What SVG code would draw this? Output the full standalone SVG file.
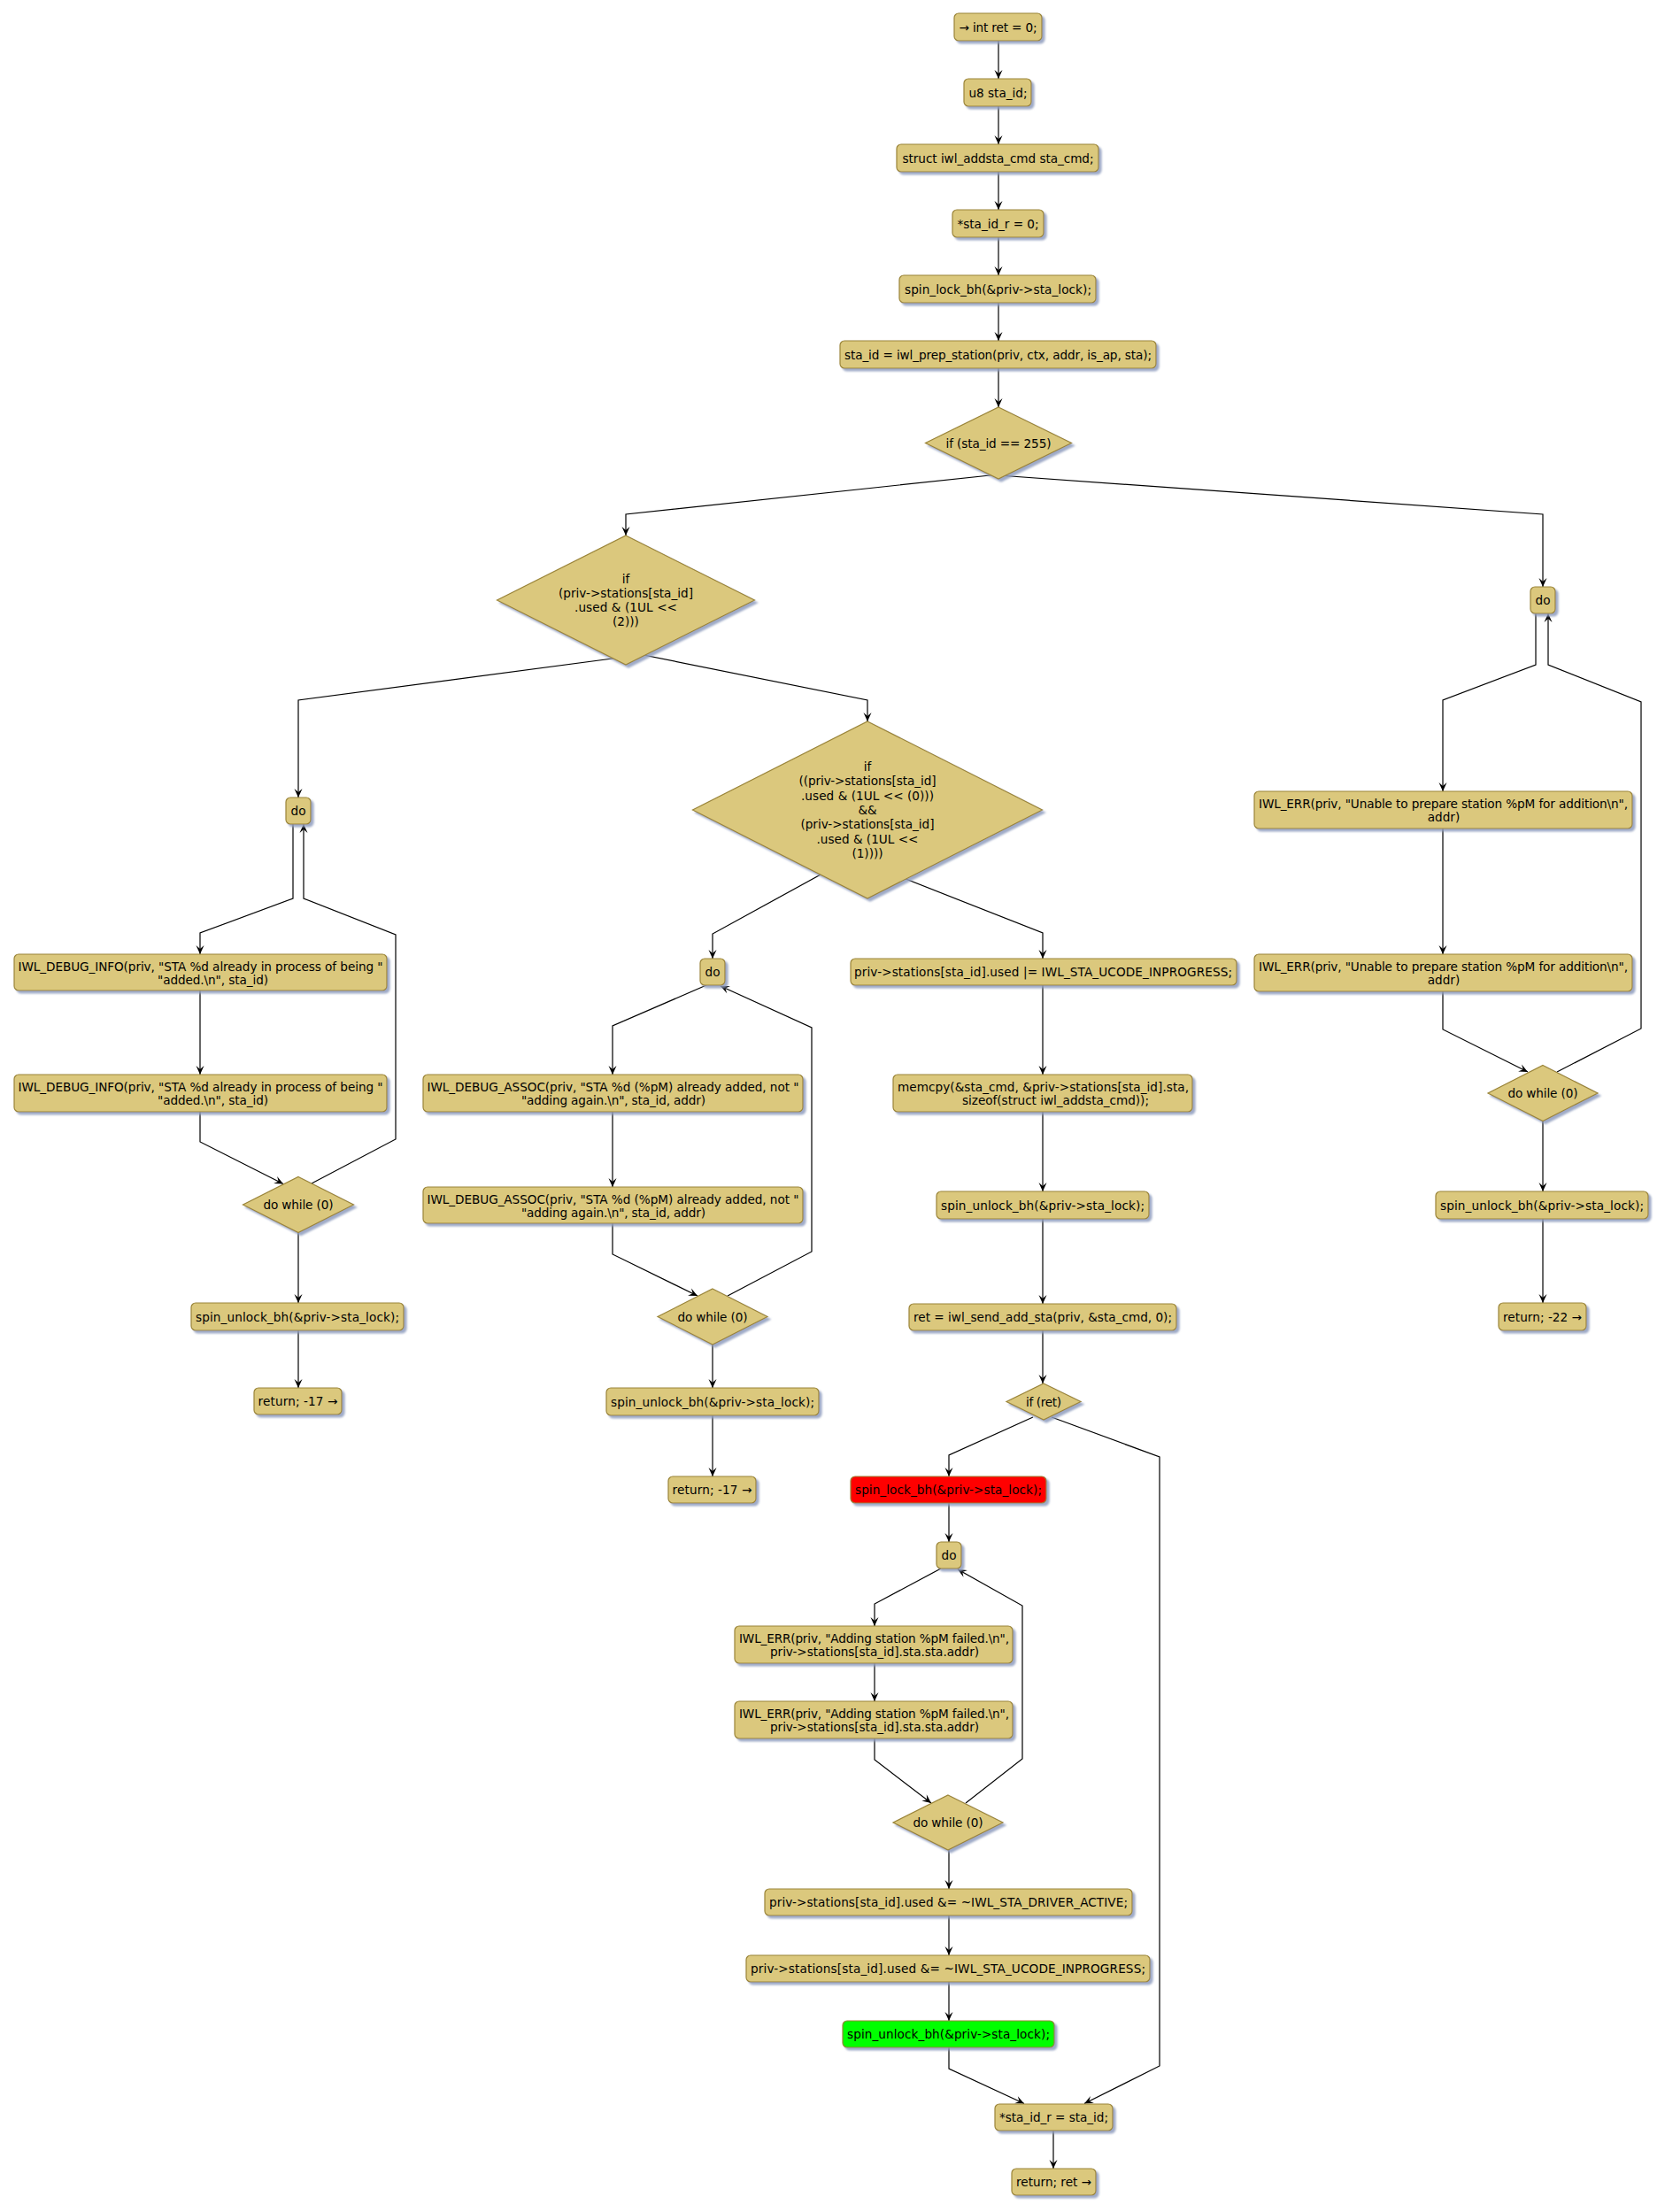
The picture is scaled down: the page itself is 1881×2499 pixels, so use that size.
<svg xmlns="http://www.w3.org/2000/svg" width="1881" height="2499" viewBox="0 0 1881 2499">
<defs>
<style>
.box{fill:#DBC87D;stroke:#9A8438;stroke-width:1.2;filter:url(#sh)}
.red{fill:#FF0000}
.grn{fill:#00FF00}
text{font-family:"DejaVu Sans",Verdana,sans-serif;font-size:13.6px;fill:#000;text-anchor:middle}
.c path{fill:none;stroke:#000;stroke-width:1.2}
.c .a{marker-end:url(#ah)}
</style>
<marker id="ah" markerUnits="userSpaceOnUse" viewBox="-11 -6 12 12" refX="0" refY="0" markerWidth="12" markerHeight="12" orient="auto">
<path d="M0,0 L-10,-4.5 L-6,0 L-10,4.5 Z" fill="#000"/>
</marker>
<filter id="sh" x="-10%" y="-10%" width="130%" height="160%">
<feGaussianBlur in="SourceAlpha" stdDeviation="1.2" result="b"/>
<feOffset in="b" dx="3" dy="3" result="o"/>
<feFlood flood-color="#8E9CBE" flood-opacity="0.85"/>
<feComposite in2="o" operator="in" result="s"/>
<feMerge><feMergeNode in="s"/><feMergeNode in="SourceGraphic"/></feMerge>
</filter>
</defs>
<rect width="1881" height="2499" fill="#FFFFFF"/>

<g id="connectors" class="c">
<path class="a" d="M1128,46 L1128,89"/>
<path class="a" d="M1128,120 L1128,163"/>
<path class="a" d="M1128,194 L1128,237"/>
<path class="a" d="M1128,268 L1128,311"/>
<path class="a" d="M1128,342 L1128,385"/>
<path class="a" d="M1128,416 L1128,460"/>
<path class="a" d="M1128,536 L707,581 L707,605"/>
<path class="a" d="M1128,537 L1743,581 L1743,663"/>
<path class="a" d="M707,742 L337,791 L337,901"/>
<path class="a" d="M707,736 L980,791 L980,815"/>
<path class="a" d="M980,959 L805,1055 L805,1083"/>
<path class="a" d="M980,976 L1178,1054 L1178,1083"/>
<path class="a" d="M331,931 L331,1015 L226,1054 L226,1078"/>
<path class="a" d="M226,1119 L226,1214"/>
<path class="a" d="M226,1256 L226,1290 L320,1337.5"/>
<path class="a" d="M352,1337 L447,1287 L447,1056 L343,1015 L343,931"/>
<path class="a" d="M337,1392.5 L337,1472"/>
<path class="a" d="M337,1503 L337,1568"/>
<path class="a" d="M798,1113 L692,1159 L692,1214"/>
<path class="a" d="M692,1256 L692,1341"/>
<path class="a" d="M692,1382 L692,1417 L788,1464"/>
<path class="a" d="M822,1464 L917,1414 L917,1161 L814,1114"/>
<path class="a" d="M805,1519 L805,1568"/>
<path class="a" d="M805,1599 L805,1668"/>
<path class="a" d="M1178,1113 L1178,1214"/>
<path class="a" d="M1178,1256 L1178,1346"/>
<path class="a" d="M1178,1377 L1178,1473"/>
<path class="a" d="M1178,1503 L1178,1563"/>
<path class="a" d="M1167,1601 L1072,1644 L1072,1668"/>
<path class="a" d="M1188,1601 L1310,1646 L1310,2334 L1225,2376.5"/>
<path class="a" d="M1072,1698 L1072,1742"/>
<path class="a" d="M1063,1772 L988,1812 L988,1837"/>
<path class="a" d="M988,1879 L988,1922"/>
<path class="a" d="M988,1964 L988,1988 L1052,2037"/>
<path class="a" d="M1091,2037 L1155,1987 L1155,1814 L1082,1773"/>
<path class="a" d="M1072,2090 L1072,2134"/>
<path class="a" d="M1072,2164 L1072,2209"/>
<path class="a" d="M1072,2239 L1072,2283"/>
<path class="a" d="M1072,2313 L1072,2337 L1157,2376.5"/>
<path class="a" d="M1190,2407 L1190,2450"/>
<path class="a" d="M1735,693 L1735,751 L1630,791 L1630,894"/>
<path class="a" d="M1630,936 L1630,1078"/>
<path class="a" d="M1630,1120 L1630,1163 L1726,1211"/>
<path class="a" d="M1759,1211 L1854,1162 L1854,793 L1749,751 L1749,693"/>
<path class="a" d="M1743,1266.5 L1743,1346"/>
<path class="a" d="M1743,1377 L1743,1472"/>
</g>

<g id="n1"><rect class="box" x="1078" y="15" width="99" height="31" rx="5"/><text x="1127.5" y="35.5" textLength="88">→ int ret = 0;</text></g>
<g id="n2"><rect class="box" x="1089" y="89" width="76" height="31" rx="5"/><text x="1127.5" y="109.5" textLength="66">u8 sta_id;</text></g>
<g id="n3"><rect class="box" x="1013" y="163" width="228" height="31" rx="5"/><text x="1127.5" y="183.5" textLength="216">struct iwl_addsta_cmd sta_cmd;</text></g>
<g id="n4"><rect class="box" x="1076" y="237" width="103" height="31" rx="5"/><text x="1127.5" y="257.5" textLength="92">*sta_id_r = 0;</text></g>
<g id="n5"><rect class="box" x="1016" y="311" width="222" height="31" rx="5"/><text x="1127.5" y="331.5" textLength="211">spin_lock_bh(&amp;priv-&gt;sta_lock);</text></g>
<g id="n6"><rect class="box" x="949" y="385" width="357" height="31" rx="5"/><text x="1127.5" y="405.5" textLength="347">sta_id = iwl_prep_station(priv, ctx, addr, is_ap, sta);</text></g>
<g id="d1"><polygon class="box" points="1128,460 1210.5,500.5 1128,541 1045.5,500.5"/><text x="1128" y="505.5" textLength="119">if (sta_id == 255)</text></g>

<g id="d2"><polygon class="box" points="707,605 852.5,678 707,751 561.5,678"/>
<text x="707" y="658.5">if</text><text x="707" y="674.8" textLength="152">(priv-&gt;stations[sta_id]</text><text x="707" y="691.1" textLength="116">.used &amp; (1UL &lt;&lt;</text><text x="707" y="707.4">(2)))</text></g>

<g id="d3"><polygon class="box" points="980,815 1177.5,915 980,1015 782.5,915"/>
<text x="980" y="871">if</text><text x="980" y="887.3" textLength="155">((priv-&gt;stations[sta_id]</text><text x="980" y="903.6" textLength="150">.used &amp; (1UL &lt;&lt; (0)))</text><text x="980" y="920">&amp;&amp;</text><text x="980" y="936.3" textLength="151">(priv-&gt;stations[sta_id]</text><text x="980" y="952.6" textLength="115">.used &amp; (1UL &lt;&lt;</text><text x="980" y="968.9">(1))))</text></g>

<g id="l_do"><rect class="box" x="323" y="901" width="28" height="30" rx="5"/><text x="337" y="921">do</text></g>
<g id="l_info1"><rect class="box" x="16" y="1078" width="421" height="41" rx="5"/><text x="226.5" y="1096.5" textLength="412">IWL_DEBUG_INFO(priv, "STA %d already in process of being "</text><text x="240.5" y="1112.1" textLength="125">"added.\n", sta_id)</text></g>
<g id="l_info2"><rect class="box" x="16" y="1214" width="421" height="42" rx="5"/><text x="226.5" y="1232.7" textLength="412">IWL_DEBUG_INFO(priv, "STA %d already in process of being "</text><text x="240.5" y="1248.3" textLength="125">"added.\n", sta_id)</text></g>
<g id="l_dw"><polygon class="box" points="337,1329.5 399.5,1361 337,1392.5 274.5,1361"/><text x="337" y="1366" textLength="79">do while (0)</text></g>
<g id="l_unlock"><rect class="box" x="216" y="1472" width="240" height="31" rx="5"/><text x="336" y="1492.5" textLength="230">spin_unlock_bh(&amp;priv-&gt;sta_lock);</text></g>
<g id="l_ret"><rect class="box" x="287" y="1568" width="99" height="30" rx="5"/><text x="336.5" y="1588" textLength="90">return; -17 →</text></g>

<g id="m_do"><rect class="box" x="791" y="1083" width="28" height="30" rx="5"/><text x="805" y="1103">do</text></g>
<g id="m_assoc1"><rect class="box" x="478" y="1214" width="429" height="42" rx="5"/><text x="692.5" y="1232.5" textLength="420">IWL_DEBUG_ASSOC(priv, "STA %d (%pM) already added, not "</text><text x="693" y="1248" textLength="208">"adding again.\n", sta_id, addr)</text></g>
<g id="m_assoc2"><rect class="box" x="478" y="1341" width="429" height="41" rx="5"/><text x="692.5" y="1359.5" textLength="420">IWL_DEBUG_ASSOC(priv, "STA %d (%pM) already added, not "</text><text x="693" y="1375" textLength="208">"adding again.\n", sta_id, addr)</text></g>
<g id="m_dw"><polygon class="box" points="805,1456 867,1487.5 805,1519 743,1487.5"/><text x="805" y="1492.5" textLength="79">do while (0)</text></g>
<g id="m_unlock"><rect class="box" x="685" y="1568" width="240" height="31" rx="5"/><text x="805" y="1588.5" textLength="230">spin_unlock_bh(&amp;priv-&gt;sta_lock);</text></g>
<g id="m_ret"><rect class="box" x="755" y="1668" width="99" height="30" rx="5"/><text x="804.5" y="1688" textLength="90">return; -17 →</text></g>

<g id="c1"><rect class="box" x="961" y="1083" width="436" height="30" rx="5"/><text x="1178.5" y="1103" textLength="427">priv-&gt;stations[sta_id].used |= IWL_STA_UCODE_INPROGRESS;</text></g>
<g id="c2"><rect class="box" x="1009" y="1214" width="338" height="42" rx="5"/><text x="1178.5" y="1232.5" textLength="329">memcpy(&amp;sta_cmd, &amp;priv-&gt;stations[sta_id].sta,</text><text x="1192.5" y="1248" textLength="211">sizeof(struct iwl_addsta_cmd));</text></g>
<g id="c3"><rect class="box" x="1058" y="1346" width="240" height="31" rx="5"/><text x="1178" y="1366.5" textLength="230">spin_unlock_bh(&amp;priv-&gt;sta_lock);</text></g>
<g id="c4"><rect class="box" x="1027" y="1473" width="302" height="30" rx="5"/><text x="1178" y="1493" textLength="292">ret = iwl_send_add_sta(priv, &amp;sta_cmd, 0);</text></g>
<g id="ifret"><polygon class="box" points="1179,1563 1221,1583.5 1179,1604 1137,1583.5"/><text x="1179" y="1588.5" textLength="40">if (ret)</text></g>
<g id="red"><rect class="box red" x="961" y="1668" width="221" height="30" rx="5"/><text x="1071.5" y="1688" textLength="211">spin_lock_bh(&amp;priv-&gt;sta_lock);</text></g>
<g id="b_do"><rect class="box" x="1058" y="1742" width="28" height="30" rx="5"/><text x="1072" y="1762">do</text></g>
<g id="b_err1"><rect class="box" x="830" y="1837" width="314" height="42" rx="5"/><text x="987.5" y="1855.5" textLength="305">IWL_ERR(priv, "Adding station %pM failed.\n",</text><text x="988" y="1871" textLength="236">priv-&gt;stations[sta_id].sta.sta.addr)</text></g>
<g id="b_err2"><rect class="box" x="830" y="1922" width="314" height="42" rx="5"/><text x="987.5" y="1940.5" textLength="305">IWL_ERR(priv, "Adding station %pM failed.\n",</text><text x="988" y="1956" textLength="236">priv-&gt;stations[sta_id].sta.sta.addr)</text></g>
<g id="b_dw"><polygon class="box" points="1071,2028 1133,2059 1071,2090 1009,2059"/><text x="1071" y="2064" textLength="79">do while (0)</text></g>
<g id="b_da"><rect class="box" x="864" y="2134" width="415" height="30" rx="5"/><text x="1071.5" y="2154" textLength="405">priv-&gt;stations[sta_id].used &amp;= ~IWL_STA_DRIVER_ACTIVE;</text></g>
<g id="b_ui"><rect class="box" x="843" y="2209" width="456" height="30" rx="5"/><text x="1071" y="2229" textLength="446">priv-&gt;stations[sta_id].used &amp;= ~IWL_STA_UCODE_INPROGRESS;</text></g>
<g id="green"><rect class="box grn" x="952" y="2283" width="239" height="30" rx="5"/><text x="1071.5" y="2303" textLength="229">spin_unlock_bh(&amp;priv-&gt;sta_lock);</text></g>
<g id="s_id"><rect class="box" x="1124" y="2377" width="133" height="30" rx="5"/><text x="1190.5" y="2397" textLength="123">*sta_id_r = sta_id;</text></g>
<g id="ret"><rect class="box" x="1143" y="2450" width="95" height="30" rx="5"/><text x="1190.5" y="2470" textLength="85">return; ret →</text></g>

<g id="r_do"><rect class="box" x="1729" y="663" width="28" height="30" rx="5"/><text x="1743" y="683">do</text></g>
<g id="r_err1"><rect class="box" x="1417" y="894" width="427" height="42" rx="5"/><text x="1630.5" y="912.5" textLength="417">IWL_ERR(priv, "Unable to prepare station %pM for addition\n",</text><text x="1631" y="928">addr)</text></g>
<g id="r_err2"><rect class="box" x="1417" y="1078" width="427" height="42" rx="5"/><text x="1630.5" y="1096.5" textLength="417">IWL_ERR(priv, "Unable to prepare station %pM for addition\n",</text><text x="1631" y="1112">addr)</text></g>
<g id="r_dw"><polygon class="box" points="1743,1203.5 1805,1235 1743,1266.5 1681,1235"/><text x="1743" y="1240" textLength="79">do while (0)</text></g>
<g id="r_unlock"><rect class="box" x="1622" y="1346" width="240" height="31" rx="5"/><text x="1742" y="1366.5" textLength="230">spin_unlock_bh(&amp;priv-&gt;sta_lock);</text></g>
<g id="r_ret"><rect class="box" x="1693" y="1472" width="99" height="31" rx="5"/><text x="1742.5" y="1492.5" textLength="89">return; -22 →</text></g>
</svg>
